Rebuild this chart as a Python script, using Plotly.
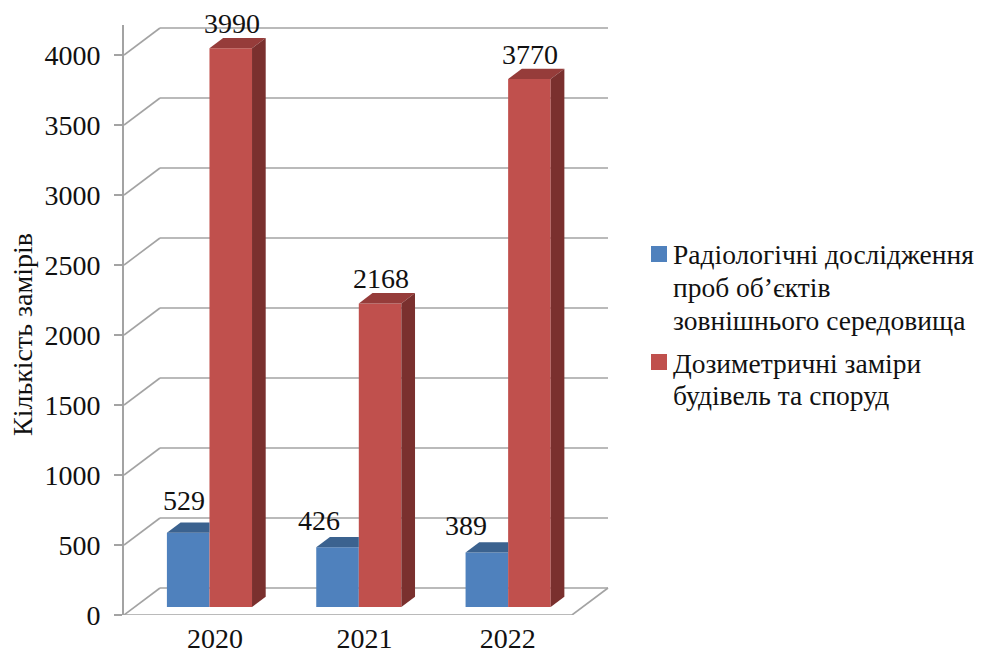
import plotly.graph_objects as go

years = ["2020", "2021", "2022"]
blue_lines = ["Радіологічні дослідження", "проб об’єктів", "зовнішнього середовища"]
red_lines = ["Дозиметричні заміри", "будівель та споруд"]
blue_values = [529, 426, 389]
red_values = [3990, 2168, 3770]
y_ticks = [0, 500, 1000, 1500, 2000, 2500, 3000, 3500, 4000]
y_title = "Кількість замірів"

FONT = "Liberation Serif"
PAGE = 8        # the page's own margin around the figure
PX_X = 149.33   # pixels per category
PX_Y = 0.14     # pixels per value unit
DX = 36 / PX_X  # full chart depth, in x units
DY = 27 / PX_Y  # full chart depth, in y units
D_FRONT, D_BACK = 0.30, 0.68
W = 0.285
GRID = "#a3a3a3"
XMIN = -0.5
XEND = 2.5
XRANGE = [XMIN, XMIN + 486 / PX_X]
YRANGE = [0, 590 / PX_Y]
PLOT_L, PLOT_T, PLOT_W, PLOT_H = 124, 25, 486, 590
FIG_W, FIG_H = 984 - PAGE, 653 - PAGE

BLUE, BLUE_TOP = "#4F81BD", "#3B628F"
RED, RED_TOP, RED_SIDE = "#C0504D", "#963C3A", "#7A302E"

fig = go.Figure()
xs = list(range(len(years)))
fx = D_FRONT * DX
fy = D_FRONT * DY
ddx = (D_BACK - D_FRONT) * DX
ddy = (D_BACK - D_FRONT) * DY

fig.add_bar(x=[i + fx - W / 2 for i in xs], y=blue_values, base=[fy] * 3, width=W,
            marker=dict(color=BLUE, line_width=0), name=" ".join(blue_lines), hoverinfo="skip", showlegend=False)
fig.add_bar(x=[i + fx + W / 2 for i in xs], y=red_values, base=[fy] * 3, width=W,
            marker=dict(color=RED, line_width=0), name=" ".join(red_lines), hoverinfo="skip", showlegend=False)


def face(px, py, color):
    fig.add_scatter(x=px, y=py, mode="lines", fill="toself", fillcolor=color,
                    line=dict(width=0, color=color), showlegend=False, hoverinfo="skip")


for i in xs:
    c = i + fx
    t = blue_values[i] + fy
    face([c - W, c, c, c - W + ddx], [t, t, t + ddy, t + ddy], BLUE_TOP)
    t = red_values[i] + fy
    face([c, c + W, c + W + ddx, c + ddx], [t, t, t + ddy, t + ddy], RED_TOP)
    face([c + W, c + W + ddx, c + W + ddx, c + W], [fy, fy + ddy, t + ddy, t], RED_SIDE)

shapes = []


def seg(x0, y0, x1, y1):
    shapes.append(dict(type="line", layer="below", xref="x", yref="y", x0=x0, y0=y0, x1=x1, y1=y1,
                       line=dict(color=GRID, width=1.6)))


for v in y_ticks:
    seg(XMIN, v, XMIN + DX, v + DY)
    seg(XMIN + DX, v + DY, XEND + DX, v + DY)
seg(XMIN, 0, XEND, 0)
seg(XEND, 0, XEND + DX, DY)


def paper_x(px):
    return (px - PLOT_L) / PLOT_W


def paper_y(py):
    return (PLOT_T + PLOT_H - py) / PLOT_H


SW = 16
for color, top in [(BLUE, 246), (RED, 354)]:
    shapes.append(dict(type="rect", xref="paper", yref="paper", x0=paper_x(651), x1=paper_x(651 + SW),
                       y0=paper_y(top + SW), y1=paper_y(top), fillcolor=color, line_width=0))

legend_y = [255, 287, 320, 363, 395]
for text, py in zip(blue_lines + red_lines, legend_y):
    fig.add_annotation(xref="paper", yref="paper", x=paper_x(671), y=paper_y(py), text=text, showarrow=False,
                       xanchor="left", yanchor="middle", font=dict(size=27.5, family=FONT))

tick_shift = [0.11, 0.11, 0.07]
fig.update_layout(
    width=FIG_W, height=FIG_H, autosize=False,
    margin=dict(l=PLOT_L - PAGE, r=FIG_W - (PLOT_L - PAGE) - PLOT_W, t=PLOT_T - PAGE,
                b=FIG_H - (PLOT_T - PAGE) - PLOT_H, pad=0),
    paper_bgcolor="white", plot_bgcolor="white",
    barmode="overlay", shapes=shapes,
    font=dict(family=FONT, size=28, color="#111111"),
    xaxis=dict(range=XRANGE, tickmode="array", tickvals=[i + tick_shift[i] for i in xs], ticktext=years,
               showgrid=False, zeroline=False, showline=False, ticks="", ticklabelstandoff=4, automargin=False,
               tickfont=dict(size=28, family=FONT)),
    yaxis=dict(range=YRANGE, tickmode="array", tickvals=y_ticks, ticktext=[str(v) for v in y_ticks],
               showgrid=False, zeroline=False, showline=True, linecolor=GRID, linewidth=2, automargin=False,
               ticks="outside", ticklen=8, tickwidth=1.6, tickcolor=GRID, ticklabelstandoff=8,
               tickfont=dict(size=28, family=FONT)),
    showlegend=False,
)

blue_nudge_x = [-4, -19, -21]
blue_nudge_y = [32, 27, 27]
for i in xs:
    fig.add_annotation(x=i + fx - W / 2, y=blue_values[i] + fy, text=str(blue_values[i]), showarrow=False,
                       xshift=blue_nudge_x[i], yshift=blue_nudge_y[i], font=dict(size=28, family=FONT))
    fig.add_annotation(x=i + fx + W / 2, y=red_values[i] + fy, text=str(red_values[i]), showarrow=False,
                       xshift=1, yshift=25, font=dict(size=28, family=FONT))

fig.add_annotation(xref="paper", yref="paper", x=paper_x(23), y=paper_y(335), text=y_title, textangle=-90,
                   xanchor="center", yanchor="middle", showarrow=False, font=dict(size=28, family=FONT))

fig.write_html("out.html")
